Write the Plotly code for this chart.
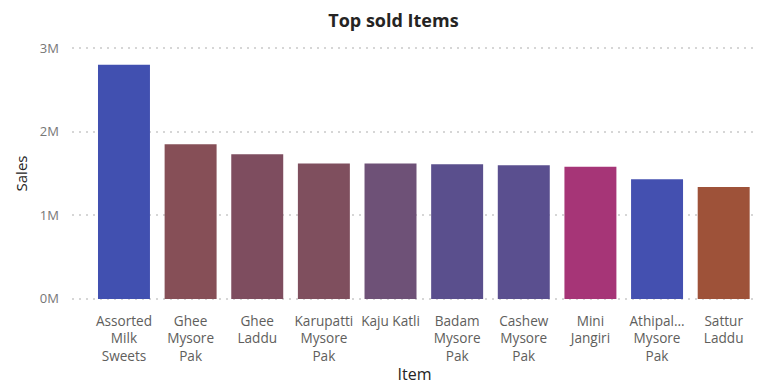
import plotly.graph_objects as go

items = ["Assorted<br>Milk<br>Sweets", "Ghee<br>Mysore<br>Pak", "Ghee<br>Laddu", "Karupatti<br>Mysore<br>Pak",
         "Kaju Katli", "Badam<br>Mysore<br>Pak", "Cashew<br>Mysore<br>Pak", "Mini<br>Jangiri",
         "Athipal...<br>Mysore<br>Pak", "Sattur<br>Laddu"]
sales = [2800000, 1850000, 1730000, 1620000, 1620000, 1610000, 1600000, 1580000, 1430000, 1340000]
colors = ["#4150b0", "#864f57", "#7e4d5f", "#7f4f5e", "#6e5177", "#5a4f8d", "#5a4f8f", "#a63577", "#4450b0", "#9e5239"]
tick_vals = [0, 1000000, 2000000, 3000000]
tick_text = ["0M", "1M", "2M", "3M"]

fig = go.Figure(go.Bar(
    x=list(range(len(items))), y=sales, marker=dict(color=colors, line=dict(width=0)),
))
font = "Segoe UI, Open Sans, sans-serif"
fig.update_layout(
    width=761, height=385,
    margin=dict(l=72, r=4, t=46, b=84),
    plot_bgcolor="white", paper_bgcolor="white",
    bargap=0.22,
    showlegend=False,
    title=dict(text="<b>Top sold Items</b>", x=0.517, xanchor="center", y=0.945, yanchor="middle",
               font=dict(family=font, size=18, color="#252423")),
    xaxis=dict(tickmode="array", tickvals=list(range(len(items))), ticktext=items,
               range=[-0.78, 9.5], showgrid=False, zeroline=False, showline=False,
               tickfont=dict(family=font, size=13.6, color="#605e5c"),
               title=dict(text="Item", font=dict(family=font, size=16, color="#252423"), standoff=6),
               ticks="", ticklen=0, ticklabelstandoff=10),
    yaxis=dict(range=[-25000, 3025000], tickvals=tick_vals, ticktext=tick_text,
               showgrid=True, gridcolor="#d6d6d6", griddash="1.5px,5.5px", gridwidth=1.5,
               zeroline=False, showline=False,
               tickfont=dict(family=font, size=13, color="#777777"),
               title=dict(text="Sales", font=dict(family=font, size=15, color="#252423"), standoff=8),
               ticklabelstandoff=12),
)
fig.write_html("out.html")
